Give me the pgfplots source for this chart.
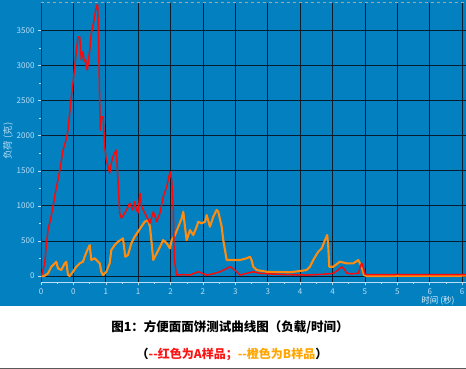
\documentclass[border=0pt]{standalone}
\usepackage{fontspec}
\setmainfont{Noto Sans CJK SC}
\usepackage{pgfplots}
\pgfplotsset{compat=1.18}
\definecolor{panel}{RGB}{2,128,192}
\definecolor{ticklab}{RGB}{185,222,245}
\definecolor{gridc}{RGB}{8,28,45}
\definecolor{lineA}{RGB}{250,10,10}
\definecolor{lineB}{RGB}{255,140,15}
\definecolor{capA}{RGB}{250,20,20}
\definecolor{capB}{RGB}{255,165,0}
\definecolor{yaxc}{RGB}{70,40,30}

\pgfplotstableread{
t v
0 0
0.02 40
0.057 181
0.08 420
0.108 655
0.15 820
0.185 987
0.22 1180
0.262 1368
0.30 1560
0.340 1795
0.386 1937
0.417 2080
0.44 2300
0.468 2554
0.495 2760
0.520 2981
0.545 3200
0.571 3409
0.597 3409
0.61 3250
0.622 3077
0.635 3150
0.648 3195
0.66 3100
0.674 3053
0.69 3080
0.70 2980
0.715 2934
0.73 3050
0.752 3219
0.776 3457
0.80 3560
0.818 3647
0.844 3789
0.869 3870
0.875 3860
0.890 3315
0.906 2464
0.915 2080
0.931 2269
0.957 2269
0.97 2100
0.983 1842
1.008 1652
1.03 1580
1.060 1467
1.085 1610
1.11 1700
1.137 1752
1.162 1795
1.188 1368
1.215 897
1.239 826
1.26 850
1.292 897
1.33 960
1.369 1040
1.395 980
1.420 940
1.446 1058
1.47 960
1.497 897
1.528 1178
1.55 1000
1.579 940
1.631 845
1.682 755
1.733 916
1.785 773
1.836 897
1.887 1130
1.940 1272
1.991 1486
2.017 1368
2.042 940
2.057 228
2.094 14
2.2 20
2.299 14
2.427 61
2.557 14
2.65 30
2.762 61
2.85 100
2.917 132
2.994 85
3.071 14
3.174 38
3.276 61
3.380 38
3.585 28
3.8 20
4.100 14
4.35 25
4.511 38
4.58 80
4.64 132
4.68 100
4.72 40
4.80 30
4.90 40
4.93 140
4.95 181
4.975 120
5.00 30
5.03 20
5.5 22
6.0 20
6.56 20
}\dataA

\pgfplotstableread{
t v
0 0
0.05 0
0.108 38
0.159 132
0.211 181
0.236 204
0.262 110
0.313 85
0.366 181
0.39 204
0.417 14
0.443 0
0.494 61
0.545 132
0.597 181
0.648 204
0.674 275
0.725 394
0.752 441
0.776 228
0.829 252
0.88 204
0.906 181
0.931 61
0.957 14
1.008 61
1.06 181
1.085 370
1.137 441
1.188 489
1.23 513
1.265 537
1.301 275
1.343 299
1.394 466
1.446 560
1.497 631
1.548 702
1.6 773
1.651 798
1.682 702
1.708 466
1.733 228
1.785 323
1.836 417
1.887 513
1.94 466
1.991 394
2.017 513
2.068 584
2.119 702
2.171 822
2.196 916
2.222 702
2.248 513
2.299 655
2.350 584
2.403 702
2.427 773
2.48 751
2.531 773
2.557 869
2.608 702
2.659 845
2.711 940
2.736 916
2.789 702
2.813 513
2.840 370
2.866 228
2.917 228
3.071 228
3.174 252
3.225 275
3.25 228
3.276 132
3.329 85
3.483 61
3.843 53
4.1 85
4.151 132
4.202 228
4.279 346
4.332 394
4.383 513
4.418 584
4.434 417
4.449 132
4.511 132
4.614 204
4.718 181
4.82 181
4.897 228
4.949 132
4.985 14
5.03 0
6.56 5
}\dataB

\begin{document}
\begin{tikzpicture}
\useasboundingbox (0pt,0pt) rectangle (466pt,-369pt);
\fill[panel] (0pt,0pt) rectangle (466pt,-306pt);
\begin{axis}[
  at={(41pt,-282pt)}, anchor=south west,
  scale only axis, width=425pt, height=279pt,
  xmin=0, xmax=6.56, ymin=-85, ymax=3890,
  axis x line*=bottom, axis y line*=left,
  x axis line style={ticklab, line width=0.8pt},
  y axis line style={yaxc, line width=1pt},
  xtick={0,0.5,...,6.5},
  xticklabels={0,0,1,1,2,2,3,3,4,4,5,5,6,6},
  ytick={0,500,...,3500},
  minor x tick num=1, minor y tick num=1,
  grid=major,
  major grid style={gridc, line width=0.7pt},
  tick align=outside, major tick length=3pt, minor tick length=2pt,
  every tick/.style={ticklab, line width=0.5pt},
  tick label style={font=\fontsize{8}{9}\selectfont, text=ticklab},
  /pgf/number format/assume math mode=true,
  scaled y ticks=false,
  yticklabel style={/pgf/number format/.cd, fixed, 1000 sep={}},
  clip=true,
]
\addplot[lineB, line width=2.1pt, line join=round] table[x=t,y=v] {\dataB};
\addplot[lineA, line width=1.5pt, line join=round] table[x=t,y=v] {\dataA};
\end{axis}
\draw[gray!70, dashed, line width=1pt] (41pt,-2.5pt) -- (466pt,-2.5pt);
\node[rotate=90, text=ticklab, font=\fontsize{9.5}{10}\selectfont] at (8pt,-141pt) {负荷 (克)};
\node[text=white!90!panel, font=\fontsize{8.5}{10}\selectfont] at (438pt,-300.5pt) {时间 (秒)};
\node[font=\bfseries\fontsize{12.5}{14}\selectfont] at (230pt,-327pt) {图1：方便面面饼测试曲线图（负载/时间）};
\node[font=\bfseries\fontsize{12}{14}\selectfont] at (232pt,-354pt) {（\textcolor{capA}{{-}{-}红色为A样品；}\textcolor{capB}{{-}{-}橙色为B样品}）};
\draw[gray!70!black, line width=1pt] (0pt,-368.5pt) -- (466pt,-368.5pt);
\end{tikzpicture}
\end{document}
